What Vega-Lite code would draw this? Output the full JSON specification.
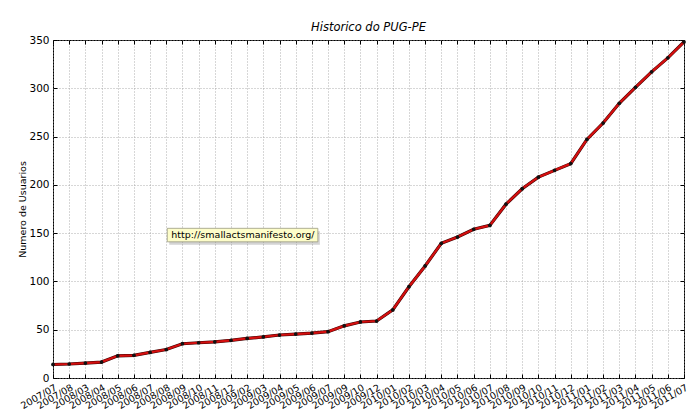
{
  "$schema": "https://vega.github.io/schema/vega-lite/v6.json",
  "width": 631,
  "height": 338,
  "autosize": {"type": "none"},
  "padding": {"left": 53, "top": 40, "right": 16, "bottom": 42},
  "background": "white",
  "title": {"text": "Historico do PUG-PE", "font": "DejaVu Sans", "fontSize": 11.5, "fontStyle": "italic", "fontWeight": "normal", "color": "black", "offset": 2},
  "config": {
    "view": {"stroke": "black", "strokeWidth": 1},
    "axis": {"labelFont": "DejaVu Sans", "titleFont": "DejaVu Sans", "labelColor": "black", "titleColor": "black", "domain": false, "tickColor": "black", "gridColor": "#999999", "gridDash": [1, 2], "gridWidth": 0.8}
  },
  "datasets": {
    "users": [
      {"mes": "2007/07", "usuarios": 14},
      {"mes": "2007/08", "usuarios": 14.5},
      {"mes": "2008/03", "usuarios": 15.5},
      {"mes": "2008/04", "usuarios": 16.5},
      {"mes": "2008/05", "usuarios": 23},
      {"mes": "2008/06", "usuarios": 23.5},
      {"mes": "2008/07", "usuarios": 26.5},
      {"mes": "2008/08", "usuarios": 29.5},
      {"mes": "2008/09", "usuarios": 35.5},
      {"mes": "2008/10", "usuarios": 36.5},
      {"mes": "2008/11", "usuarios": 37.5},
      {"mes": "2008/12", "usuarios": 39},
      {"mes": "2009/02", "usuarios": 41},
      {"mes": "2009/03", "usuarios": 42.5},
      {"mes": "2009/04", "usuarios": 44.5},
      {"mes": "2009/05", "usuarios": 45.5},
      {"mes": "2009/06", "usuarios": 46.5},
      {"mes": "2009/07", "usuarios": 48},
      {"mes": "2009/09", "usuarios": 54},
      {"mes": "2009/10", "usuarios": 58},
      {"mes": "2009/12", "usuarios": 59},
      {"mes": "2010/01", "usuarios": 70.5},
      {"mes": "2010/02", "usuarios": 94.5},
      {"mes": "2010/03", "usuarios": 116},
      {"mes": "2010/04", "usuarios": 139.5},
      {"mes": "2010/05", "usuarios": 146},
      {"mes": "2010/06", "usuarios": 154},
      {"mes": "2010/07", "usuarios": 158},
      {"mes": "2010/08", "usuarios": 180},
      {"mes": "2010/09", "usuarios": 196},
      {"mes": "2010/10", "usuarios": 208},
      {"mes": "2010/11", "usuarios": 215},
      {"mes": "2010/12", "usuarios": 222},
      {"mes": "2011/01", "usuarios": 247},
      {"mes": "2011/02", "usuarios": 264},
      {"mes": "2011/03", "usuarios": 284.5},
      {"mes": "2011/04", "usuarios": 301},
      {"mes": "2011/05", "usuarios": 317},
      {"mes": "2011/06", "usuarios": 331.5},
      {"mes": "2011/07", "usuarios": 348}
    ],
    "nota": [
      {"inicio": "2008/08", "fim": "2009/06", "y1": 141, "y2": 155, "ym": 148, "texto": "http://smallactsmanifesto.org/"}
    ]
  },
  "resolve": {"axis": {"x": "independent", "y": "independent"}},
  "layer": [
    {
      "data": {"name": "users"},
      "mark": {"type": "line", "color": "#3a0000", "strokeWidth": 3.2},
      "encoding": {
        "x": {"field": "mes", "type": "ordinal", "sort": null, "scale": {"type": "point", "padding": 0},
          "axis": {"title": null, "orient": "bottom", "grid": true, "tickSize": -4, "labelAngle": -30, "labelAlign": "right", "labelBaseline": "top", "labelFontSize": 9.5, "labelPadding": 8}},
        "y": {"field": "usuarios", "type": "quantitative", "scale": {"domain": [0, 350], "nice": false, "zero": true},
          "axis": {"title": "Numero de Usuarios", "titleFontSize": 9.5, "titleFontWeight": "normal", "titlePadding": 1, "values": [0, 50, 100, 150, 200, 250, 300, 350], "grid": true, "tickSize": -4, "labelFontSize": 10.5, "labelPadding": 8, "orient": "left"}}
      }
    },
    {
      "data": {"name": "users"},
      "mark": {"type": "line", "color": "#d40f0f", "strokeWidth": 2.2},
      "encoding": {
        "x": {"field": "mes", "type": "ordinal", "sort": null, "axis": {"orient": "top", "labels": false, "grid": false, "tickSize": -4, "title": null}},
        "y": {"field": "usuarios", "type": "quantitative", "axis": {"orient": "right", "labels": false, "grid": false, "tickSize": -4, "title": null, "values": [0, 50, 100, 150, 200, 250, 300, 350]}}
      }
    },
    {
      "data": {"name": "users"},
      "mark": {"type": "point", "filled": true, "color": "#111111", "size": 14, "opacity": 1},
      "encoding": {
        "x": {"field": "mes", "type": "ordinal", "sort": null, "axis": null},
        "y": {"field": "usuarios", "type": "quantitative", "axis": null}
      }
    },
    {
      "data": {"name": "nota"},
      "mark": {"type": "rect", "fill": "#555555", "opacity": 0.25, "xOffset": 3, "x2Offset": 8, "yOffset": 3, "y2Offset": 3},
      "encoding": {
        "x": {"field": "inicio", "type": "ordinal", "axis": null},
        "x2": {"field": "fim"},
        "y": {"field": "y1", "type": "quantitative", "axis": null},
        "y2": {"field": "y2"}
      }
    },
    {
      "data": {"name": "nota"},
      "mark": {"type": "rect", "fill": "#fdfdc9", "stroke": "#9a9a80", "strokeWidth": 0.8, "xOffset": 1, "x2Offset": 6},
      "encoding": {
        "x": {"field": "inicio", "type": "ordinal", "axis": null},
        "x2": {"field": "fim"},
        "y": {"field": "y1", "type": "quantitative", "axis": null},
        "y2": {"field": "y2"}
      }
    },
    {
      "data": {"name": "nota"},
      "mark": {"type": "text", "font": "DejaVu Sans", "fontSize": 9.5, "color": "black", "align": "left", "baseline": "middle", "dx": 5},
      "encoding": {
        "x": {"field": "inicio", "type": "ordinal", "axis": null},
        "y": {"field": "ym", "type": "quantitative", "axis": null},
        "text": {"field": "texto"}
      }
    }
  ]
}
